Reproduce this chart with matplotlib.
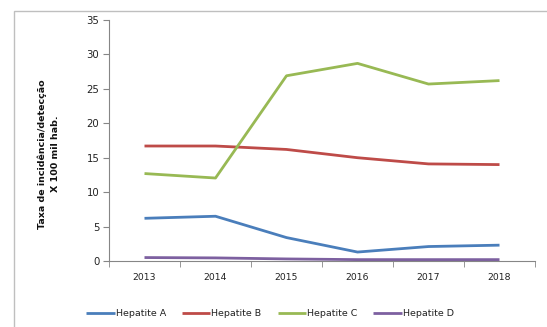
import matplotlib.pyplot as plt
import matplotlib.patches as patches
import numpy as np

# incidence / detection rate per 100k inhabitants
anos = ['2013', '2014', '2015', '2016', '2017', '2018']
hep_a = [6.2, 6.5, 3.4, 1.3, 2.1, 2.3]
hep_b = [16.7, 16.7, 16.2, 15.0, 14.1, 14.0]
hep_c = [12.7, 12.05, 26.9, 28.7, 25.7, 26.2]
hep_d = [0.5, 0.45, 0.3, 0.2, 0.2, 0.2]

series = [('Hepatite A', hep_a, '#4A7EBB'),
          ('Hepatite B', hep_b, '#BE4B48'),
          ('Hepatite C', hep_c, '#98B954'),
          ('Hepatite D', hep_d, '#7D60A0')]

plt.rcParams['font.family'] = ['DejaVu Sans']

fig = plt.figure(figsize=(5.47, 3.27), dpi=100)
# chart area border
fig.patches.append(patches.Rectangle((14 / 547, -0.1), 1.2, 1 - 11 / 327 + 0.1,
                                     transform=fig.transFigure, fill=False,
                                     edgecolor='#BFBFBF', linewidth=1.0))

ax = fig.add_axes([109 / 547, 1 - 261 / 327, (535 - 109) / 547, (261 - 20) / 327])
x = np.arange(len(anos)) + 0.5
for nome, vals, cor in series:
    ax.plot(x, vals, color=cor, linewidth=2.0, label=nome, solid_capstyle='butt')

ax.set_xlim(0, len(anos))
ax.set_ylim(0, 35)
ax.set_yticks(range(0, 36, 5))
ax.set_xticks(x)
ax.set_xticklabels(anos)
ax.set_xticks(np.arange(len(anos) + 1), minor=True)
ax.tick_params(axis='x', which='major', length=0, pad=9, labelsize=6.7, colors='#222222')
ax.tick_params(axis='x', which='minor', length=4, color='#868686')
ax.tick_params(axis='y', length=4, labelsize=7.3, pad=3)
ax.tick_params(axis='y', colors='#868686', labelcolor='#222222')
for s in ['top', 'right']:
    ax.spines[s].set_visible(False)
for s in ['left', 'bottom']:
    ax.spines[s].set_color('#868686')
    ax.spines[s].set_linewidth(0.8)

fig.text(49 / 547, 1 - 154 / 327, 'Taxa de incidência/detecção\nX 100 mil hab.',
         rotation=90, ha='center', va='center', fontsize=6.8, fontweight='bold',
         linespacing=1.55, color='#111111')

fig.legend(loc='center', bbox_to_anchor=(270 / 547, 1 - 314 / 327), ncol=4,
           frameon=False, fontsize=6.8, handlelength=3.0, handletextpad=0.1,
           columnspacing=1.7, labelcolor='#222222')

fig.savefig('out.png', dpi=100)
